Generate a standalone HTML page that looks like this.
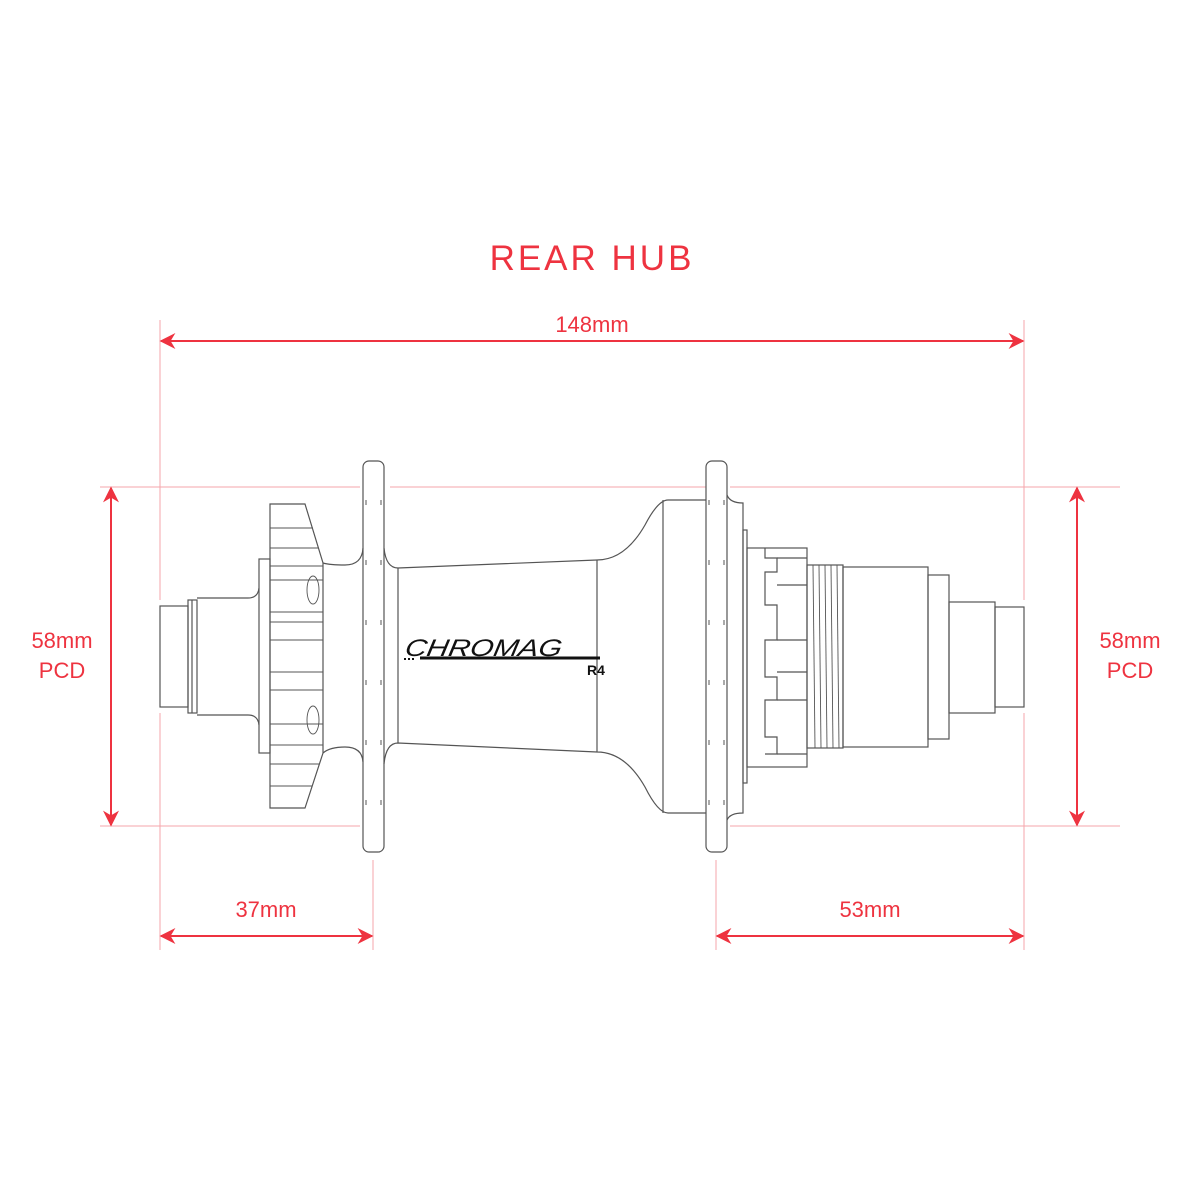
<!DOCTYPE html>
<html><head><style>
html,body{margin:0;padding:0;background:#fff;}
svg{display:block}
text{font-family:"Liberation Sans",sans-serif;fill:#ee3340;}
</style></head><body>
<svg width="1200" height="1200" viewBox="0 0 1200 1200" xmlns="http://www.w3.org/2000/svg">
<defs>
<marker id="ah" viewBox="0 0 10 10" refX="9" refY="5" markerWidth="16" markerHeight="16" markerUnits="userSpaceOnUse" orient="auto-start-reverse">
<path d="M0,0 L10,5 L0,10 L3,5 z" fill="#ee3340"/></marker>
</defs>
<g stroke="#f5a5ab" stroke-width="1" fill="none">
<line x1="160" y1="320" x2="160" y2="600"/>
<line x1="160" y1="713" x2="160" y2="950"/>
<line x1="1024" y1="320" x2="1024" y2="600"/>
<line x1="1024" y1="713" x2="1024" y2="950"/>
<line x1="100" y1="487" x2="360" y2="487"/>
<line x1="390" y1="487" x2="706" y2="487"/>
<line x1="730" y1="487" x2="1120" y2="487"/>
<line x1="100" y1="826" x2="360" y2="826"/>
<line x1="730" y1="826" x2="1120" y2="826"/>
<line x1="373" y1="860" x2="373" y2="950"/>
<line x1="716" y1="860" x2="716" y2="950"/>
</g>
<g stroke="#ee3340" stroke-width="2" fill="none">
<line x1="161" y1="341" x2="1023" y2="341" marker-start="url(#ah)" marker-end="url(#ah)"/>
<line x1="161" y1="936" x2="372" y2="936" marker-start="url(#ah)" marker-end="url(#ah)"/>
<line x1="717" y1="936" x2="1023" y2="936" marker-start="url(#ah)" marker-end="url(#ah)"/>
<line x1="111" y1="488" x2="111" y2="825" marker-start="url(#ah)" marker-end="url(#ah)"/>
<line x1="1077" y1="488" x2="1077" y2="825" marker-start="url(#ah)" marker-end="url(#ah)"/>
</g>
<text x="592" y="270" font-size="35" text-anchor="middle" letter-spacing="3">REAR HUB</text>
<text x="592" y="332" font-size="22" text-anchor="middle">148mm</text>
<text x="266" y="917" font-size="22" text-anchor="middle">37mm</text>
<text x="870" y="917" font-size="22" text-anchor="middle">53mm</text>
<text x="62" y="648" font-size="22" text-anchor="middle">58mm</text>
<text x="62" y="678" font-size="22" text-anchor="middle">PCD</text>
<text x="1130" y="648" font-size="22" text-anchor="middle">58mm</text>
<text x="1130" y="678" font-size="22" text-anchor="middle">PCD</text>
<g stroke="#555" stroke-width="1.2" fill="none">
<rect x="160" y="606" width="28" height="101"/>
<rect x="188" y="600" width="9" height="113"/>
<line x1="192" y1="600" x2="192" y2="713"/>
<path d="M197,598 L248,598 Q258,598 259,588 M197,715 L248,715 Q258,715 259,725"/>
<rect x="259" y="559" width="11" height="194"/>
<path d="M270,504 L305,504 L323,563 L323,753 L305,808 L270,808 Z"/>
<g stroke-width="0.9">
<line x1="270" y1="528" x2="313" y2="528"/><line x1="270" y1="548" x2="319" y2="548"/>
<line x1="270" y1="566" x2="323" y2="566"/><line x1="270" y1="580" x2="323" y2="580"/>
<line x1="270" y1="612" x2="323" y2="612"/><line x1="270" y1="622" x2="323" y2="622"/>
<line x1="270" y1="640" x2="323" y2="640"/><line x1="270" y1="672" x2="323" y2="672"/>
<line x1="270" y1="690" x2="323" y2="690"/><line x1="270" y1="724" x2="323" y2="724"/>
<line x1="270" y1="745" x2="323" y2="745"/><line x1="270" y1="764" x2="319" y2="764"/>
<line x1="270" y1="786" x2="312" y2="786"/>
<ellipse cx="313" cy="590" rx="6" ry="14"/>
<ellipse cx="313" cy="720" rx="6" ry="14"/>
</g>
<path d="M323,563 Q330,565 345,565 Q362,565 363,548 M323,753 Q330,747 345,747 Q362,747 363,762"/>
<rect x="363" y="461" width="21" height="391" rx="6"/>
<path d="M384,548 Q386,568 398,568 L597,560 Q625,560 645,525 Q658,500 668,500 L706,500"/>
<path d="M384,764 Q386,743 398,743 L597,752 Q625,752 645,787 Q658,813 668,813 L706,813"/>
<line x1="398" y1="568" x2="398" y2="743"/>
<line x1="597" y1="560" x2="597" y2="752"/>
<line x1="663" y1="500" x2="663" y2="813"/>
<rect x="706" y="461" width="21" height="391" rx="6"/>
<path d="M727,495 Q730,503 743,503 L743,813 Q730,813 727,820"/>
<rect x="743" y="530" width="4" height="253"/>
<rect x="747" y="548" width="60" height="219"/>
<path d="M765,548 L765,558 L777,558 L777,572 L765,572 L765,605 L777,605 L777,640 L765,640 L765,677 L777,677 L777,700 L765,700 L765,737 L777,737 L777,754 L765,754"/>
<line x1="777" y1="558" x2="807" y2="558"/><line x1="777" y1="585" x2="807" y2="585"/>
<line x1="777" y1="640" x2="807" y2="640"/><line x1="777" y1="672" x2="807" y2="672"/>
<line x1="777" y1="700" x2="807" y2="700"/><line x1="777" y1="754" x2="807" y2="754"/>
<rect x="807" y="565" width="36" height="183"/>
<g stroke-width="0.9">
<line x1="813" y1="565" x2="815" y2="748"/><line x1="819" y1="565" x2="821" y2="748"/>
<line x1="825" y1="565" x2="827" y2="748"/><line x1="831" y1="565" x2="833" y2="748"/>
<line x1="837" y1="565" x2="839" y2="748"/>
</g>
<rect x="843" y="567" width="85" height="180"/>
<rect x="928" y="575" width="21" height="164"/>
<rect x="949" y="602" width="46" height="111"/>
<rect x="995" y="607" width="29" height="100"/>
</g>
<g stroke="#555" stroke-width="1" stroke-dasharray="5 55" fill="none">
<line x1="366" y1="500" x2="366" y2="845"/><line x1="381" y1="500" x2="381" y2="845"/>
<line x1="709" y1="500" x2="709" y2="845"/><line x1="724" y1="500" x2="724" y2="845"/>
</g>
<text x="0" y="0" font-size="24" font-style="italic" style="fill:#111" transform="translate(404,656) skewX(-10) scale(1.25,1)">CHROMAG</text>
<line x1="420" y1="658" x2="600" y2="658" stroke="#111" stroke-width="3"/>
<line x1="404" y1="659" x2="416" y2="659" stroke="#111" stroke-width="2" stroke-dasharray="2 2"/>
<text x="587" y="675" font-size="14" font-weight="bold" style="fill:#111">R4</text>
</svg>
</body></html>
